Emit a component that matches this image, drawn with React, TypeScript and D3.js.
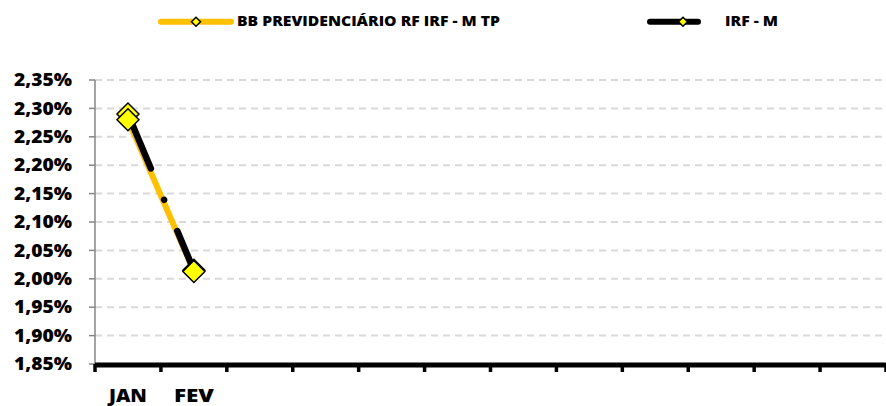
import React from "react";
import * as d3 from "d3";

const categories = ["JAN", "FEV", "MAR", "ABR", "MAI", "JUN", "JUL", "AGO", "SET", "OUT", "NOV", "DEZ"];
const categoryLabels = ["JAN", "FEV", "", "", "", "", "", "", "", "", "", ""];
const bbValues = [2.28, 2.013];
const irfmValues = [2.29, 2.015];
const yTicks = [1.85, 1.9, 1.95, 2.0, 2.05, 2.1, 2.15, 2.2, 2.25, 2.3, 2.35];
const seriesNames = ["BB PREVIDENCIÁRIO RF IRF - M TP", "IRF - M"];

const W = 886;
const H = 406;
const FONT = "'Open Sans', 'Liberation Sans', Arial, sans-serif";

export default function App() {
  const x = d3.scaleBand<string>().domain(categories).range([95, 886]).paddingInner(0).paddingOuter(0);
  const y = d3.scaleLinear().domain([1.85, 2.35]).range([364, 80]);
  const fmt = (v: number) => d3.format(".2f")(v).replace(".", ",") + "%";
  const cx = (i: number) => (x(categories[i]) as number) + x.bandwidth() / 2;

  const line = d3
    .line<number>()
    .x((_, i) => cx(i))
    .y((d) => y(d));

  const diamond = (px: number, py: number, r: number) =>
    `M${px},${py - r} L${px + r},${py} L${px},${py + r} L${px - r},${py} Z`;

  const tickXs = d3.range(categories.length + 1).map((i) => 95 + i * x.bandwidth());

  return (
    <svg width={W} height={H} style={{ position: "absolute", left: 0, top: 0, background: "#fff" }}>
      {yTicks
        .filter((t) => t > 1.85)
        .map((t) => (
          <line key={"g" + t} x1={95} x2={886} y1={y(t)} y2={y(t)} stroke="#D9D9D9" strokeWidth={2} strokeDasharray="7 5" />
        ))}
      <line x1={95} x2={95} y1={y(2.35)} y2={y(1.85)} stroke="#868686" strokeWidth={1.5} />
      {yTicks.map((t) => (
        <g key={"t" + t}>
          <line x1={89} x2={95} y1={y(t)} y2={y(t)} stroke="#868686" strokeWidth={1.5} />
          <text
            x={72}
            y={y(t) + 6.2}
            textAnchor="end"
            fontFamily={FONT}
            fontWeight={800}
            fontSize={17.4}
            textLength={58}
            lengthAdjust="spacingAndGlyphs"
            fill="#000"
          >
            {fmt(t)}
          </text>
        </g>
      ))}
      <line x1={95} x2={886} y1={y(1.85) + 1} y2={y(1.85) + 1} stroke="#000" strokeWidth={5} />
      {tickXs.map((tx, i) => (
        <line key={"xt" + i} x1={tx} x2={tx} y1={y(1.85)} y2={y(1.85) + 8} stroke="#000" strokeWidth={3.5} />
      ))}
      {categoryLabels.map((c, i) =>
        c ? (
          <text
            key={"xl" + i}
            x={cx(i)}
            y={402}
            textAnchor="middle"
            fontFamily={FONT}
            fontWeight={800}
            fontSize={17.4}
            textLength={c === "JAN" ? 38 : 40}
            lengthAdjust="spacingAndGlyphs"
            fill="#000"
          >
            {c}
          </text>
        ) : null
      )}
      <path d={line(bbValues) || ""} fill="none" stroke="#FFC000" strokeWidth={6} strokeLinecap="round" />
      <path
        d={line(irfmValues) || ""}
        fill="none"
        stroke="#000"
        strokeWidth={6.5}
        strokeLinecap="round"
        strokeDasharray="59 34 0.01 34"
      />
      {irfmValues.map((v, i) => (
        <path key={"mi" + i} d={diamond(cx(i), y(v), 11)} fill="#FFFF00" stroke="#000" strokeWidth={1.5} />
      ))}
      {bbValues.map((v, i) => (
        <path key={"mb" + i} d={diamond(cx(i), y(v), 11)} fill="#FFFF00" stroke="#000" strokeWidth={1.5} />
      ))}
      <line x1={161} x2={231} y1={21.7} y2={21.7} stroke="#FFC000" strokeWidth={6} strokeLinecap="round" />
      <path d={diamond(196, 21.7, 4.5)} fill="#FFFF00" stroke="#000" strokeWidth={1.5} />
      <text
        x={237}
        y={26.3}
        fontFamily={FONT}
        fontWeight={800}
        fontSize={14}
        textLength={263}
        lengthAdjust="spacingAndGlyphs"
        fill="#000"
      >
        {seriesNames[0]}
      </text>
      <line x1={650} x2={698} y1={21.7} y2={21.7} stroke="#000" strokeWidth={6} strokeLinecap="round" />
      <path d={diamond(683, 21.7, 4.5)} fill="#FFFF00" stroke="#000" strokeWidth={1.5} />
      <text
        x={725}
        y={26.3}
        fontFamily={FONT}
        fontWeight={800}
        fontSize={14}
        textLength={53}
        lengthAdjust="spacingAndGlyphs"
        fill="#000"
      >
        {seriesNames[1]}
      </text>
    </svg>
  );
}
